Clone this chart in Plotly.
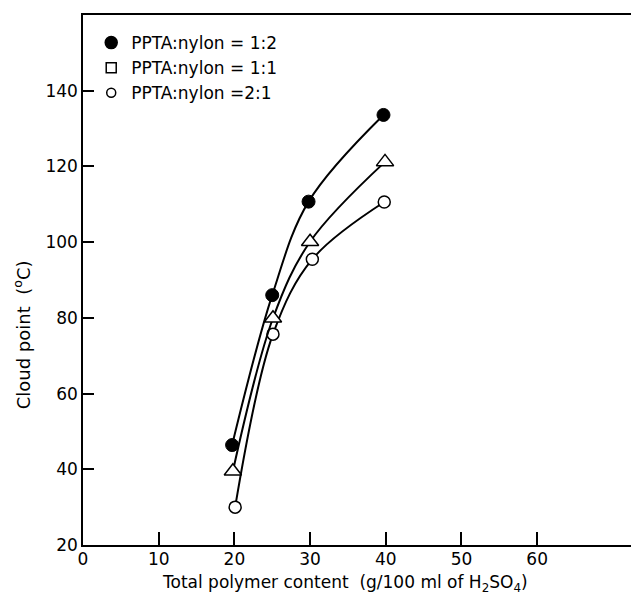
import plotly.graph_objects as go

# Data
x_12 = [19.7, 25.0, 29.8, 39.7]
y_12 = [46.4, 86.0, 110.7, 133.6]
x_11 = [19.8, 25.1, 30.0, 39.9]
y_11 = [39.5, 79.9, 100.1, 121.2]
x_21 = [20.1, 25.1, 30.3, 39.8]
y_21 = [30.0, 75.7, 95.5, 110.6]

legend_labels = ["PPTA:nylon = 1:2", "PPTA:nylon = 1:1", "PPTA:nylon =2:1"]
x_ticks = [0, 10, 20, 30, 40, 50, 60]
y_ticks = [20, 40, 60, 80, 100, 120, 140]

FONT = "DejaVu Sans"
fig = go.Figure()

line = dict(color="black", width=2, shape="spline", smoothing=1.0)

fig.add_trace(go.Scatter(x=x_21, y=y_21, mode="lines+markers", line=line,
                         marker=dict(symbol="circle", size=12, color="white",
                                     line=dict(color="black", width=1.5)),
                         showlegend=False))
fig.add_trace(go.Scatter(x=x_11, y=y_11, mode="lines+markers", line=line,
                         marker=dict(symbol="triangle-up", size=15, color="white",
                                     line=dict(color="black", width=1.5)),
                         showlegend=False))
fig.add_trace(go.Scatter(x=x_12, y=y_12, mode="lines+markers", line=line,
                         marker=dict(symbol="circle", size=13, color="black",
                                     line=dict(color="black", width=1)),
                         showlegend=False))

# Legend-only entries (reference legend shows a square for 1:1)
for lab, sym, col, sz in zip(legend_labels, ["circle", "square", "circle"],
                             ["black", "white", "white"], [12, 10, 9]):
    fig.add_trace(go.Scatter(x=[None], y=[None], mode="markers", name=lab,
                             marker=dict(symbol=sym, size=sz, color=col,
                                         line=dict(color="black", width=1.5))))

fig.update_layout(
    width=631, height=604,
    margin=dict(l=83, r=0, t=15, b=59),
    paper_bgcolor="white", plot_bgcolor="white",
    font=dict(family=FONT, color="black", size=17),
    legend=dict(x=0.015, y=0.981, xanchor="left", yanchor="top",
                bgcolor="rgba(0,0,0,0)", font=dict(size=17, family=FONT),
                itemsizing="trace", tracegroupgap=0),
    showlegend=True,
)
fig.update_xaxes(range=[0, 72.4], tickvals=x_ticks, ticktext=[str(v) for v in x_ticks],
                 ticks="inside", ticklen=13, tickwidth=1.5, tickcolor="black",
                 showline=True, linecolor="black", linewidth=1.5, mirror=True,
                 showgrid=False, zeroline=False, tickfont=dict(size=17, family=FONT),
                 ticklabelstandoff=-2)
fig.update_yaxes(range=[20, 160], tickvals=y_ticks, ticktext=[str(v) for v in y_ticks],
                 ticks="inside", ticklen=11, tickwidth=1.5, tickcolor="black",
                 showline=True, linecolor="black", linewidth=1.5,
                 showgrid=False, zeroline=False, tickfont=dict(size=17, family=FONT))

fig.add_annotation(text="Total polymer content  (g/100 ml of H<sub>2</sub>SO<sub>4</sub>)",
                   xref="paper", yref="paper", x=0.478, y=-0.073, xanchor="center",
                   yanchor="middle", showarrow=False, font=dict(size=17, family=FONT))
fig.add_annotation(text="Cloud point  (<sup>o</sup>C)", textangle=-90,
                   xref="paper", yref="paper", x=-0.111, y=0.396, xanchor="center",
                   yanchor="middle", showarrow=False, font=dict(size=18, family=FONT))

fig.write_html("out.html", config={"displayModeBar": False},
               post_script="document.body.style.margin='0';document.body.style.padding='0';"
                           "document.body.style.overflow='hidden';")
